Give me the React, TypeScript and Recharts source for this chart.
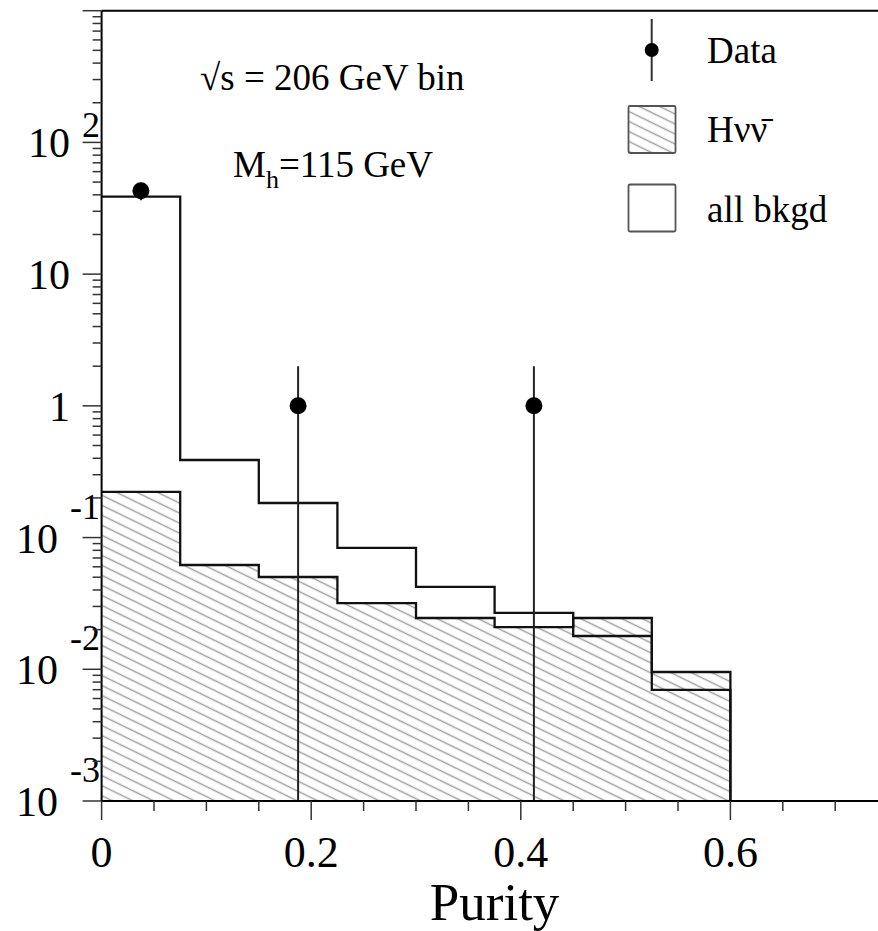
import {
  ComposedChart,
  Area,
  Scatter,
  ErrorBar,
  XAxis,
  YAxis,
  ReferenceLine,
} from "recharts";

// histogram bins (purity), bin edges
const binEdges = [0, 0.075, 0.15, 0.225, 0.3, 0.375, 0.45, 0.525, 0.6];
// all background, per bin
const bkgdValues = [38.8, 0.388, 0.183, 0.0834, 0.0422, 0.0268, 0.0179, 0.00697];
// H nu nubar signal, per bin
const signalValues = [0.222, 0.0619, 0.0502, 0.0318, 0.0245, 0.0209, 0.0245, 0.00954];

// data points
const dataX = [0.0375, 0.1875, 0.4125];
const dataCounts = [43, 1, 1];
const dataErrLow = [6.6, 0.999, 0.999]; // lower bar runs to the axis floor
const dataErrHigh = [6.6, 1.0, 1.0];

const xMajorTicks = [0, 0.2, 0.4, 0.6];
const xMinorTicks = [0.05, 0.1, 0.15, 0.25, 0.3, 0.35, 0.45, 0.5, 0.55, 0.65, 0.7, 0.75];
const yDecades = [-3, -2, -1, 0, 1, 2, 3];
const yLabels: Record<number, { base: string; exp?: string }> = {
  [-3]: { base: "10", exp: "-3" },
  [-2]: { base: "10", exp: "-2" },
  [-1]: { base: "10", exp: "-1" },
  [0]: { base: "1" },
  [1]: { base: "10" },
  [2]: { base: "10", exp: "2" },
};

const Y_MIN = 0.001;
const Y_MAX = 1000;
const FONT = "'Liberation Serif', 'Times New Roman', serif";

const histData = binEdges.map((x, i) => ({
  x,
  bkgd: i < bkgdValues.length ? bkgdValues[i] : Y_MIN,
  sig: i < signalValues.length ? signalValues[i] : Y_MIN,
}));

const pointData = dataX.map((x, i) => ({
  x,
  y: dataCounts[i],
  err: [dataErrLow[i], dataErrHigh[i]],
}));

const yTicks: number[] = [];
yDecades.forEach((d) => {
  yTicks.push(Math.pow(10, d));
  if (d < 3) {
    for (let m = 2; m <= 9; m++) yTicks.push(m * Math.pow(10, d));
  }
});
const xTicks = [...xMajorTicks, ...xMinorTicks].sort((a, b) => a - b);

const YTick = (props: any) => {
  const { x, y, payload } = props;
  const v = payload.value;
  const lg = Math.log10(v);
  const dec = Math.round(lg);
  const major = Math.abs(lg - dec) < 1e-6;
  const lab = major ? yLabels[dec] : undefined;
  return (
    <g>
      <line x1={x} x2={x - (major ? 19 : 9)} y1={y} y2={y} stroke="#333" strokeWidth={1.5} />
      {lab && (
        <text
          x={lab.exp ? 100 : 70}
          y={y + 15}
          textAnchor="end"
          fontFamily={FONT}
          fontSize={42}
          fill="#000"
        >
          <tspan>{lab.base}</tspan>
          {lab.exp && (
            <tspan dx={12} dy={dec < 0 ? -34 : -20} fontSize={36}>
              {lab.exp}
            </tspan>
          )}
        </text>
      )}
    </g>
  );
};

const XTick = (props: any) => {
  const { x, y, payload } = props;
  const v = payload.value;
  const major = xMajorTicks.some((t) => Math.abs(t - v) < 1e-6);
  return (
    <g>
      <line x1={x} x2={x} y1={y} y2={y + (major ? 19 : 10)} stroke="#333" strokeWidth={1.5} />
      {major && (
        <text x={x} y={y + 66} textAnchor="middle" fontFamily={FONT} fontSize={44} fill="#000">
          {String(v)}
        </text>
      )}
    </g>
  );
};

const DataDot = (props: any) => <circle cx={props.cx} cy={props.cy} r={8.5} fill="#000" />;

export default function App() {
  return (
    <div style={{ position: "absolute", left: 0, top: 0, width: 878, height: 931, overflow: "hidden", background: "#fff" }}>
      <ComposedChart
        width={900}
        height={931}
        margin={{ top: 10.7, right: 12.4, left: 0, bottom: 0 }}
      >
        <defs>
          <pattern id="hatch" patternUnits="userSpaceOnUse" width={10} height={9} patternTransform="rotate(26)">
            <line x1={0} y1={4.5} x2={10} y2={4.5} stroke="#a0a0a0" strokeWidth={1.5} />
          </pattern>
        </defs>
        <XAxis
          dataKey="x"
          type="number"
          domain={[0, 0.75]}
          allowDataOverflow
          ticks={xTicks}
          interval={0}
          tick={<XTick />}
          tickLine={false}
          tickSize={0}
          tickMargin={0}
          height={130}
          axisLine={{ stroke: "#000", strokeWidth: 2 }}
          label={{
            value: "Purity",
            position: "insideBottom",
            offset: 11,
            fontFamily: FONT,
            fontSize: 53,
            fill: "#000",
          }}
        />
        <YAxis
          dataKey="y"
          type="number"
          scale="log"
          domain={[Y_MIN, Y_MAX]}
          allowDataOverflow
          ticks={yTicks}
          interval={0}
          tick={<YTick />}
          tickLine={false}
          tickSize={0}
          tickMargin={0}
          width={101.6}
          axisLine={{ stroke: "#000", strokeWidth: 2 }}
        />
        <ReferenceLine y={Y_MAX} stroke="#000" strokeWidth={2} />
        <Area
          data={histData}
          dataKey="sig"
          type="stepAfter"
          baseValue={Y_MIN}
          fill="url(#hatch)"
          fillOpacity={1}
          stroke="#111"
          strokeWidth={2.3}
          isAnimationActive={false}
        />
        <Area
          data={histData}
          dataKey="bkgd"
          type="stepAfter"
          baseValue={Y_MIN}
          fill="none"
          stroke="#111"
          strokeWidth={2.3}
          isAnimationActive={false}
        />
        <Scatter data={pointData} dataKey="y" shape={DataDot} isAnimationActive={false}>
          <ErrorBar dataKey="err" direction="y" width={0} stroke="#222" strokeWidth={2} isAnimationActive={false} />
        </Scatter>

        <text x={200} y={90} fontFamily={FONT} fontSize={37} fill="#000">
          √s = 206 GeV bin
        </text>
        <text x={233} y={177} fontFamily={FONT} fontSize={37} fill="#000">
          <tspan>M</tspan>
          <tspan dy={11} fontSize={26}>h</tspan>
          <tspan dy={-11}>=115 GeV</tspan>
        </text>

        <line x1={651.7} x2={651.7} y1={19} y2={81} stroke="#333" strokeWidth={2} />
        <circle cx={651.7} cy={50} r={7} fill="#000" />
        <text x={707} y={63} fontFamily={FONT} fontSize={37} fill="#000">Data</text>
        <rect x={628.5} y={106} width={47} height={47} rx={1.5} fill="url(#hatch)" stroke="#555" strokeWidth={1.8} />
        <text x={707} y={142} fontFamily={FONT} fontSize={37} fill="#000">Hνν̄</text>
        <rect x={628.5} y={184.5} width={47} height={47} rx={1.5} fill="#fff" stroke="#555" strokeWidth={1.8} />
        <text x={707} y={222} fontFamily={FONT} fontSize={37} fill="#000">all bkgd</text>
      </ComposedChart>
    </div>
  );
}
